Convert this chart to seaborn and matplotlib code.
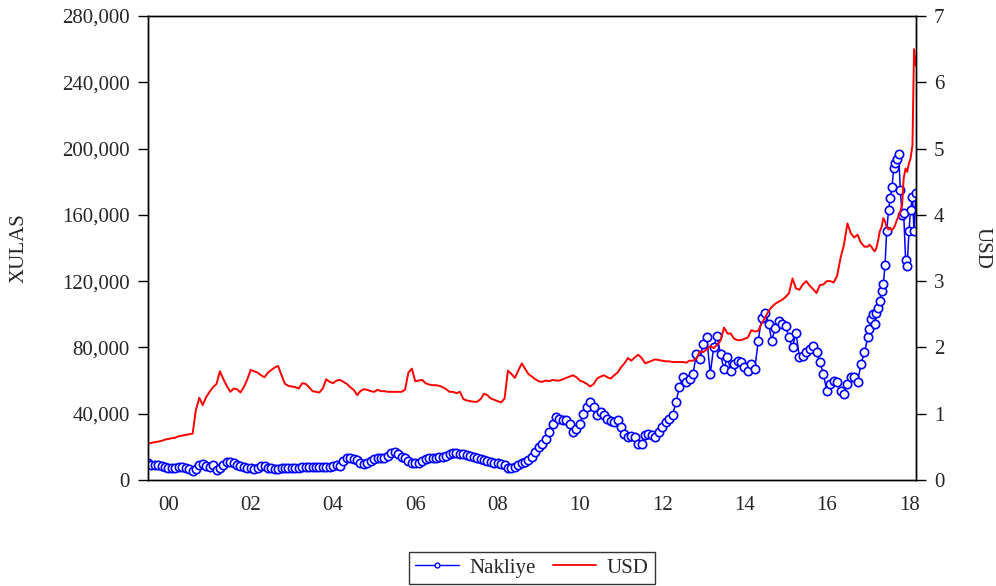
import pandas as pd
import numpy as np
import seaborn as sns
import matplotlib
matplotlib.use("Agg")
import matplotlib.pyplot as plt
from matplotlib.ticker import FuncFormatter
from matplotlib.lines import Line2D

# monthly values, Jan 2000 - Jun 2017
usd_monthly = [
    0.55, 0.56, 0.57, 0.58, 0.59, 0.61, 0.62, 0.63, 0.64, 0.66, 0.67, 0.68,   # 2000
    0.69, 0.70, 1.05, 1.24, 1.13, 1.25, 1.33, 1.40, 1.45, 1.64, 1.52, 1.42,   # 2001
    1.33, 1.38, 1.37, 1.32, 1.40, 1.52, 1.66, 1.64, 1.62, 1.58, 1.55, 1.62,   # 2002
    1.66, 1.70, 1.72, 1.58, 1.45, 1.42, 1.41, 1.40, 1.38, 1.46, 1.45, 1.40,   # 2003
    1.34, 1.33, 1.32, 1.38, 1.52, 1.48, 1.46, 1.50, 1.51, 1.48, 1.45, 1.40,   # 2004
    1.36, 1.28, 1.34, 1.37, 1.36, 1.34, 1.33, 1.36, 1.34, 1.34, 1.33, 1.33,   # 2005
    1.33, 1.33, 1.33, 1.36, 1.62, 1.68, 1.49, 1.50, 1.51, 1.46, 1.44, 1.43,   # 2006
    1.43, 1.42, 1.40, 1.37, 1.33, 1.33, 1.31, 1.33, 1.22, 1.20, 1.19, 1.18,   # 2007
    1.18, 1.22, 1.30, 1.28, 1.23, 1.21, 1.19, 1.17, 1.23, 1.65, 1.60, 1.54,   # 2008
    1.65, 1.76, 1.68, 1.60, 1.56, 1.52, 1.49, 1.48, 1.50, 1.49, 1.51, 1.50,   # 2009
    1.50, 1.52, 1.54, 1.56, 1.58, 1.55, 1.50, 1.48, 1.45, 1.41, 1.45, 1.53,   # 2010
    1.56, 1.58, 1.55, 1.53, 1.58, 1.62, 1.70, 1.76, 1.84, 1.80, 1.85, 1.89,   # 2011
    1.84, 1.76, 1.78, 1.80, 1.82, 1.81, 1.80, 1.79, 1.79, 1.78, 1.78, 1.78,   # 2012
    1.78, 1.77, 1.80, 1.80, 1.83, 1.94, 1.93, 1.97, 2.02, 1.99, 2.04, 2.10,   # 2013
    2.30, 2.21, 2.21, 2.13, 2.11, 2.11, 2.13, 2.15, 2.26, 2.24, 2.25, 2.36,   # 2014
    2.45, 2.55, 2.61, 2.66, 2.69, 2.72, 2.76, 2.82, 3.04, 2.89, 2.87, 2.95,   # 2015
    3.00, 2.93, 2.88, 2.82, 2.94, 2.95, 3.00, 3.00, 2.98, 3.08, 3.35, 3.55,   # 2016
    3.87, 3.72, 3.66, 3.70, 3.58, 3.52,                                       # 2017
]

xulas_monthly = [
    10000, 9300, 9000, 8800, 8200, 7800, 7500, 7200, 7000, 7600, 8000, 7000,
    6400, 5500, 6800, 9000, 9400, 8200, 8000, 9000, 5800, 7200, 9000, 10800,
    11000, 10000, 9000, 8500, 8000, 7400, 7000, 6400, 7200, 8600, 8600, 7200,
    7000, 6800, 6800, 7000, 7000, 7000, 7000, 7200, 7400, 7600, 7600, 7800,
    8000, 8000, 7800, 7600, 7600, 7800, 8200, 9000, 8500, 11500, 13500, 13000,
    12500, 12000, 10500, 9500, 10000, 11500, 12800, 13000, 13000, 13000, 14500, 16000,
    17000, 15500, 14000, 13500, 11500, 10000, 10500, 10500, 11500, 12500, 13000, 13000,
    13500, 14000, 14000, 14500, 15500, 16500, 16000, 15500, 15500, 15000, 14500, 14000,
    13000, 12500, 12000, 11500, 11000, 10500, 10000, 9500, 9000, 7000, 7500, 8000,
    9000, 10000, 11000, 12000, 14000, 17000, 20000, 22000, 25000, 29000, 34000, 38000,
    37000, 36500, 36000, 33500, 29000, 31000, 34000, 40000, 44000, 47000, 44000, 39000,
    41000, 39000, 37000, 35500, 35000, 36000, 32000, 28000, 26000, 26500, 26000, 22000,
    22000, 27000, 27500, 27000, 26000, 29000, 32000, 35000, 37000, 39000, 47000, 56000,
    62000, 59000, 61000, 64000, 76000, 73000, 82000, 86000, 64000, 80000, 87000, 76000,
    67000, 74000, 66000, 70000, 72000, 71000, 68000, 66000, 70000, 67000, 84000, 98000,
    101000, 94000, 84000, 92000, 96000, 94000, 93000, 86000, 80000, 89000, 74000, 75000,
    77000, 79000, 81000, 77000, 71000, 64000, 54000, 58000, 60000, 59000, 54000, 52000,
    58000, 62000, 62000, 59000, 70000, 77000,
]

# twice a month, Jul 2017 - Sep 2018
usd_tail = [3.52, 3.55, 3.52, 3.48, 3.45, 3.50, 3.62, 3.75, 3.82, 3.95, 3.90, 3.82,
            3.78, 3.80, 3.77, 3.80, 3.85, 3.92, 3.98, 4.05, 4.15, 4.55, 4.70, 4.65,
            4.78, 4.85, 5.05, 6.50, 6.25]
xulas_tail = [86000, 91000, 97000, 100000, 94000, 101000, 104000, 108000, 114000,
              118000, 130000, 150000, 163000, 170000, 177000, 188000, 191000, 194000,
              197000, 175000, 160000, 161000, 133000, 129000, 150000, 163000, 171000,
              150000, 173000]

dates = pd.date_range("2000-01-01", "2017-06-01", freq="MS").append(
    pd.date_range("2017-07-01", "2018-09-01", freq="SMS"))
year_frac = dates.year + (dates.dayofyear - 1) / np.where(dates.is_leap_year, 366, 365)

df = pd.DataFrame({"t": year_frac,
                   "XULAS": xulas_monthly + xulas_tail,
                   "USD": usd_monthly + usd_tail})

sns.set_style("white")
plt.rcParams["font.family"] = ["Liberation Serif", "DejaVu Serif"]
plt.rcParams["font.size"] = 15

fig = plt.figure(figsize=(9.96, 5.86), dpi=100)
ax = fig.add_axes([148/996, 1 - 480/586, (916-148)/996, (480-16)/586])
ax2 = ax.twinx()

sns.lineplot(data=df, x="t", y="XULAS", ax=ax, color="#0000ff", lw=1.1,
             marker="o", markersize=6, markerfacecolor="white",
             markeredgecolor="#0000ff", markeredgewidth=1.2)
sns.lineplot(data=df, x="t", y="USD", ax=ax2, color="#ff0000", lw=1.4)

ax.set_xlim(2000, df["t"].iloc[-1])
ax.set_ylim(0, 280000)
ax2.set_ylim(0, 7)
ax.set_yticks(range(0, 280001, 40000))
ax.yaxis.set_major_formatter(FuncFormatter(lambda v, p: f"{v:,.0f}"))
ax2.set_yticks(range(0, 8))

years = list(range(2000, 2019))
ax.set_xticks(years)
ax.set_xticklabels([])
ax.set_xticks([y + k / 3 for y in years for k in (1, 2) if y + k / 3 < 2018.7], minor=True)
ax.tick_params(axis="x", which="major", direction="out", length=10, width=1, color="black")
ax.tick_params(axis="x", which="minor", direction="out", length=6, width=1, color="black")
ax.tick_params(axis="y", direction="out", length=7, width=1, color="black", pad=6)
ax2.tick_params(axis="y", direction="out", length=7, width=1, color="black", pad=6)

for y in range(2000, 2019, 2):
    ax.text(y + 0.5, -0.035, f"{y % 100:02d}", transform=ax.get_xaxis_transform(),
            ha="center", va="top")

ax.set_xlabel("")
ax.set_ylabel("XULAS")
ax2.set_ylabel("USD", rotation=270)
ax.yaxis.set_label_coords(-0.155, 0.5)
ax2.yaxis.set_label_coords(1.098, 0.5)

for a in (ax, ax2):
    for s in a.spines.values():
        s.set_color("black")
        s.set_linewidth(1.0)

handles = [Line2D([], [], color="#0000ff", lw=1.0, marker="o", markersize=3.5,
                  markerfacecolor="white", markeredgecolor="#0000ff"),
           Line2D([], [], color="#ff0000", lw=1.3)]
leg = fig.legend(handles, ["Nakliye", "USD"], loc="lower center", ncol=2,
                 bbox_to_anchor=(532/996, 0.0), frameon=True, fancybox=False,
                 edgecolor="black", handlelength=2.1, columnspacing=0.8,
                 borderpad=0.3, handletextpad=0.5, borderaxespad=0.1)
leg.get_frame().set_linewidth(1.0)

fig.savefig("out.png", dpi=100)
